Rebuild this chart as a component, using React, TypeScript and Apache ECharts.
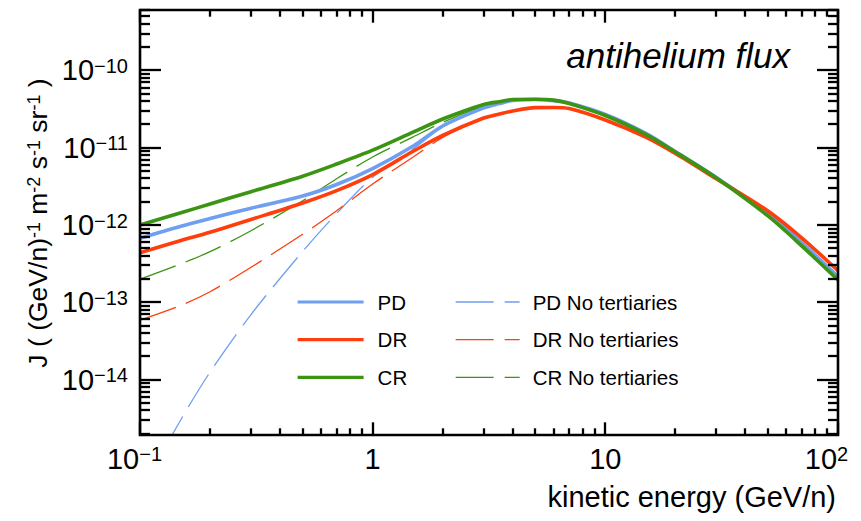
import React, { useEffect, useRef } from 'react';
import * as echarts from 'echarts';

// Kinetic energy per nucleon (GeV/n)
const energy = [0.1, 0.15, 0.2, 0.3, 0.5, 0.7, 1, 1.5, 2, 3, 3.5, 4, 5, 6, 7, 10, 15, 20, 30, 50, 70, 100];

// Antihelium flux J, (GeV/n)^-1 m^-2 s^-1 sr^-1
const fluxPD = [6.73e-13, 9.62e-13, 1.21e-12, 1.65e-12, 2.37e-12, 3.34e-12, 5.37e-12, 1.06e-11, 1.91e-11, 3.27e-11, 3.72e-11, 4.08e-11, 4.21e-11, 4.05e-11, 3.79e-11, 2.69e-11, 1.52e-11, 8.9e-12, 4.12e-12, 1.4e-12, 5.9e-13, 2.14e-13];
const fluxDR = [4.39e-13, 6.3e-13, 8.04e-13, 1.18e-12, 1.93e-12, 2.79e-12, 4.5e-12, 9.06e-12, 1.44e-11, 2.42e-11, 2.73e-11, 2.99e-11, 3.3e-11, 3.32e-11, 3.21e-11, 2.28e-11, 1.36e-11, 8.41e-12, 3.96e-12, 1.52e-12, 6.79e-13, 2.56e-13];
const fluxCR = [1.0e-12, 1.44e-12, 1.87e-12, 2.7e-12, 4.28e-12, 6.15e-12, 9.29e-12, 1.6e-11, 2.35e-11, 3.62e-11, 3.94e-11, 4.21e-11, 4.23e-11, 4.13e-11, 3.73e-11, 2.61e-11, 1.48e-11, 8.8e-12, 4.06e-12, 1.31e-12, 5.34e-13, 1.94e-13];

const fluxPDNoTert = [3.5e-16, 3.05e-15, 1.25e-14, 6.95e-14, 4.54e-13, 1.41e-12, 4.14e-12, 9.77e-12, 1.85e-11, 3.4e-11, 3.85e-11, 4.1e-11, 4.22e-11, 4.06e-11, 3.79e-11, 2.69e-11, 1.52e-11, 8.9e-12, 4.12e-12, 1.4e-12, 5.9e-13, 2.14e-13];
const fluxDRNoTert = [5.9e-14, 9.15e-14, 1.37e-13, 2.84e-13, 7.58e-13, 1.53e-12, 3.39e-12, 7.65e-12, 1.36e-11, 2.4e-11, 2.75e-11, 3.0e-11, 3.31e-11, 3.32e-11, 3.21e-11, 2.28e-11, 1.36e-11, 8.41e-12, 3.96e-12, 1.52e-12, 6.79e-13, 2.56e-13];
const fluxCRNoTert = [1.99e-13, 3.15e-13, 4.52e-13, 8.44e-13, 2.06e-12, 3.97e-12, 7.59e-12, 1.39e-11, 2.13e-11, 3.5e-11, 3.92e-11, 4.18e-11, 4.24e-11, 4.13e-11, 3.73e-11, 2.61e-11, 1.48e-11, 8.8e-12, 4.06e-12, 1.31e-12, 5.34e-13, 1.94e-13];

// Axis ranges and tick decades
const X_MIN = 0.1;
const X_MAX = 100;
const Y_MIN = 1.92e-15;
const Y_MAX = 6.05e-10;
const xDecades = [-1, 0, 1, 2];
const yDecades = [-14, -13, -12, -11, -10];
const yMinorDecades = [-15, -14, -13, -12, -11, -10];
const minorSteps = [2, 3, 4, 5, 6, 7, 8, 9];

const FONT = '"Liberation Sans", Arial, Helvetica, sans-serif';
const COLOR_PD = '#6f9ff0';
const COLOR_DR = '#ff3d0d';
const COLOR_CR = '#3b9412';
const DASH = [38, 11];

// Plot area in pixels
const PLOT = { left: 140, top: 10, right: 838, bottom: 435 };

const zip = (ys: number[]) => energy.map((e, i) => [e, ys[i]]);

const decadeText = (e: number) => {
  if (e === 0) return '{b|1}';
  if (e === 1) return '{b|10}';
  return `{b|10}{s|${e < 0 ? '\u2212' : ''}${Math.abs(e)}}`;
};

const decadeOf = (v: number, list: number[]) => {
  const lg = Math.log10(v);
  const e = Math.round(lg);
  if (Math.abs(lg - e) > 1e-6 || !list.includes(e)) return null;
  return e;
};

const labelRich = {
  b: { fontSize: 29, lineHeight: 29, padding: [7, 0, 0, 0], verticalAlign: 'bottom', fontFamily: FONT, color: '#000' },
  s: { fontSize: 20, lineHeight: 24, verticalAlign: 'top', fontFamily: FONT, color: '#000' },
  gapMin: { width: 11, fontSize: 29, lineHeight: 29 },
  gapMax: { width: 23, fontSize: 29, lineHeight: 29 },
};

const xGapStyle: Record<number, string> = { [-1]: 'gapMin', 2: 'gapMax' };

const xTickData = [
  ...xDecades.map((e) => [Math.pow(10, e), Y_MIN, 1]),
  ...xDecades.slice(0, -1).flatMap((e) => minorSteps.map((m) => [m * Math.pow(10, e), Y_MIN, 0])),
];
const yTickData = [
  ...yDecades.map((e) => [X_MIN, Math.pow(10, e), 1]),
  ...yMinorDecades
    .flatMap((e) => minorSteps.map((m) => m * Math.pow(10, e)))
    .filter((v) => v > Y_MIN && v < Y_MAX)
    .map((v) => [X_MIN, v, 0]),
];

const tickStyle = { stroke: '#000', lineWidth: 2.3, opacity: 1 };

function lineSeries(name: string, ys: number[], color: string, dashed: boolean) {
  return {
    name,
    type: 'line',
    data: zip(ys),
    smooth: 0.3,
    showSymbol: false,
    symbol: 'none',
    clip: true,
    color,
    itemStyle: { color, opacity: 0 },
    lineStyle: { color, width: dashed ? 1.3 : 3.6, type: dashed ? DASH : 'solid' },
    emphasis: { disabled: true },
  };
}

function tickSeries(data: number[][], renderItem: any) {
  return {
    type: 'custom',
    silent: true,
    clip: false,
    z: 4,
    itemStyle: { opacity: 1, color: '#000' },
    emphasis: { disabled: true },
    data,
    renderItem,
  };
}

const legendBase = {
  orient: 'vertical',
  top: 290,
  padding: 0,
  itemHeight: 2,
  itemGap: 13.7,
  selectedMode: false,
  itemStyle: { opacity: 0 },
};

function buildOption(): any {
  return {
    animation: false,
    backgroundColor: '#fff',
    grid: {
      left: PLOT.left,
      right: 861 - PLOT.right,
      top: PLOT.top,
      bottom: 521 - PLOT.bottom,
      show: false,
      containLabel: false,
      outerBoundsMode: 'none',
    },
    xAxis: {
      type: 'log',
      logBase: 10,
      min: X_MIN,
      max: X_MAX,
      axisLine: { show: false },
      axisTick: { show: false },
      splitLine: { show: false },
      minorTick: { show: false },
      axisLabel: {
        interval: 0,
        margin: 9,
        showMinLabel: true,
        showMaxLabel: true,
        hideOverlap: false,
        rich: labelRich,
        formatter: (v: number) => {
          const e = decadeOf(v, xDecades);
          if (e === null) return '';
          const gap = xGapStyle[e];
          return gap ? `${decadeText(e)}{${gap}| }` : decadeText(e);
        },
      },
    },
    yAxis: {
      type: 'log',
      logBase: 10,
      min: Y_MIN,
      max: Y_MAX,
      axisLine: { show: false },
      axisTick: { show: false },
      splitLine: { show: false },
      minorTick: { show: false },
      axisLabel: {
        interval: 0,
        margin: 12,
        hideOverlap: false,
        rich: labelRich,
        formatter: (v: number) => {
          const e = decadeOf(v, yDecades);
          return e === null ? '' : decadeText(e);
        },
      },
    },
    legend: [
      {
        ...legendBase,
        data: ['PD', 'DR', 'CR'],
        left: 296,
        itemWidth: 66,
        lineStyle: { width: 3.2 },
        textStyle: { fontSize: 20.5, lineHeight: 24, fontFamily: FONT, color: '#000', padding: [0, 0, 0, 9] },
      },
      {
        ...legendBase,
        data: ['PD No tertiaries', 'DR No tertiaries', 'CR No tertiaries'],
        left: 455,
        itemWidth: 64,
        lineStyle: { width: 1.3 },
        textStyle: { fontSize: 20.5, lineHeight: 24, fontFamily: FONT, color: '#000', padding: [0, 0, 0, 8] },
      },
    ],
    graphic: [
      {
        type: 'rect',
        silent: true,
        z: 100,
        shape: { x: PLOT.left, y: PLOT.top, width: PLOT.right - PLOT.left, height: PLOT.bottom - PLOT.top },
        style: { fill: 'none', stroke: '#000', lineWidth: 2.6 },
      },
      {
        type: 'text',
        x: 790,
        y: 55,
        silent: true,
        style: {
          text: 'antihelium flux',
          fontSize: 35,
          fontStyle: 'italic',
          fontFamily: FONT,
          fill: '#000',
          align: 'right',
          verticalAlign: 'middle',
        },
      },
      {
        type: 'text',
        x: 836,
        y: 497,
        silent: true,
        style: {
          text: 'kinetic energy (GeV/n)',
          fontSize: 29,
          fontFamily: FONT,
          fill: '#000',
          align: 'right',
          verticalAlign: 'middle',
        },
      },
      {
        type: 'text',
        x: 38,
        y: 223,
        rotation: Math.PI / 2,
        silent: true,
        style: {
          text: '{b|J ( (GeV/n)}{s|-1}{b| m}{s|-2}{b| s}{s|-1}{b| sr}{s|-1}{b| )}',
          align: 'center',
          verticalAlign: 'middle',
          rich: {
            b: { fontSize: 26.5, lineHeight: 27, padding: [7, 0, 0, 0], verticalAlign: 'bottom', fontFamily: FONT, fill: '#000' },
            s: { fontSize: 18, lineHeight: 22, verticalAlign: 'top', fontFamily: FONT, fill: '#000' },
          },
        },
      },
    ],
    series: [
      lineSeries('PD No tertiaries', fluxPDNoTert, COLOR_PD, true),
      lineSeries('DR No tertiaries', fluxDRNoTert, COLOR_DR, true),
      lineSeries('CR No tertiaries', fluxCRNoTert, COLOR_CR, true),
      lineSeries('PD', fluxPD, COLOR_PD, false),
      lineSeries('DR', fluxDR, COLOR_DR, false),
      lineSeries('CR', fluxCR, COLOR_CR, false),
      // ticks on the bottom and top edges of the frame
      tickSeries(xTickData, (_params: any, api: any) => {
        const v = api.value(0);
        const len = api.value(2) ? 12.7 : 6.7;
        const b = api.coord([v, Y_MIN]);
        const t = api.coord([v, Y_MAX]);
        const x = Math.round(b[0]);
        return {
          type: 'group',
          children: [
            { type: 'line', shape: { x1: x, y1: b[1], x2: x, y2: b[1] - len }, style: tickStyle },
            { type: 'line', shape: { x1: x, y1: t[1], x2: x, y2: t[1] + len }, style: tickStyle },
          ],
        };
      }),
      // ticks on the left and right edges of the frame
      tickSeries(yTickData, (_params: any, api: any) => {
        const v = api.value(1);
        const len = api.value(2) ? 21 : 10;
        const l = api.coord([X_MIN, v]);
        const r = api.coord([X_MAX, v]);
        const y = Math.round(l[1]);
        return {
          type: 'group',
          children: [
            { type: 'line', shape: { x1: l[0], y1: y, x2: l[0] + len, y2: y }, style: tickStyle },
            { type: 'line', shape: { x1: r[0], y1: y, x2: r[0] - len, y2: y }, style: tickStyle },
          ],
        };
      }),
    ],
  };
}

export default function App() {
  const ref = useRef<HTMLDivElement>(null);
  useEffect(() => {
    const el = ref.current;
    if (!el) return;
    const chart = echarts.init(el, undefined, { renderer: 'svg' });
    chart.setOption(buildOption());
    return () => chart.dispose();
  }, []);
  return (
    <div
      ref={ref}
      style={{ position: 'fixed', left: 0, top: 0, width: 861, height: 521, background: '#fff' }}
    />
  );
}
